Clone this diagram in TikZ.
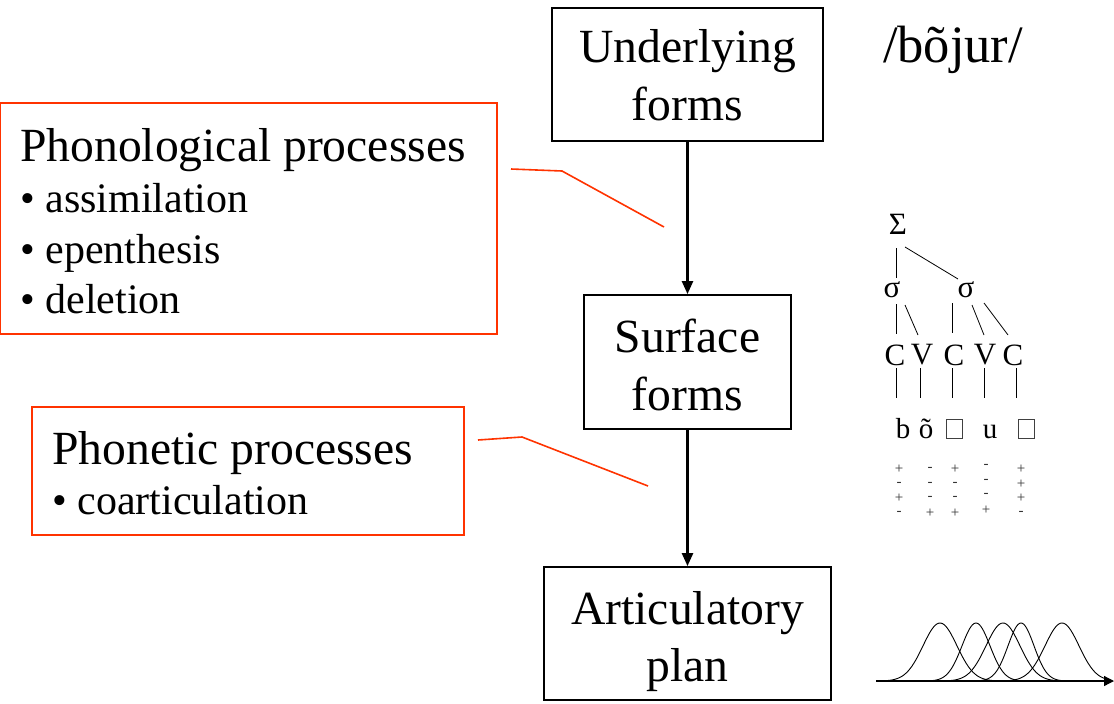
\documentclass[tikz,border=0pt]{standalone}
\usepackage{fontspec}
\setmainfont{Liberation Serif}
\usetikzlibrary{arrows.meta}
\definecolor{callout}{HTML}{FF3300}
\begin{document}
\begin{tikzpicture}[x=1pt,y=-1pt,
  stagebox/.style={draw=black, line width=1.8pt, inner sep=0pt},
  notebox/.style={draw=callout, line width=1.8pt, inner sep=0pt},
  big/.style={font=\fontsize{47.6}{57}\selectfont, inner sep=0pt},
  item/.style={font=\fontsize{42}{48}\selectfont, inner sep=0pt, anchor=base west},
  leader/.style={draw=callout, line width=1.6pt},
  flow/.style={line width=2.4pt, -{Triangle[length=13pt,width=11pt]}},
  tree/.style={font=\fontsize{31}{34}\selectfont, inner sep=0pt},
  seg/.style={font=\fontsize{29}{34}\selectfont, inner sep=0pt},
  feat/.style={font=\fontsize{15}{15}\selectfont, inner sep=0pt, text=black!80},
  branch/.style={line width=0.8pt},
  bump/.style={line width=0.9pt}]
\useasboundingbox (0,0) rectangle (1114,704);

% derivation stages
\node[stagebox, minimum width=271pt, minimum height=133pt] (under) at (687.5,74.5) {};
\node[big, anchor=base] (underA) at (687.5,62) {Underlying};
\node[big, anchor=base] (underB) at (687.5,120) {forms};

\node[stagebox, minimum width=207pt, minimum height=134pt] (surf) at (687.5,362) {};
\node[big, anchor=base] (surfA) at (687.5,352) {Surface};
\node[big, anchor=base] (surfB) at (687.5,410) {forms};

\node[stagebox, minimum width=287pt, minimum height=133pt] (artic) at (687.5,633.5) {};
\node[big, anchor=base] (articA) at (687.5,624) {Articulatory};
\node[big, anchor=base] (articB) at (687.5,681) {plan};

\draw[flow] (under.south) -- (surf.north);
\draw[flow] (surf.south) -- (artic.north);

% process annotations
\node[notebox, minimum width=497pt, minimum height=231pt] (phonol) at (248.5,218.5) {};
\node[big, anchor=base west] (phonolT) at (20,161) {Phonological processes};
\node[item] (p1) at (20,212) {• assimilation};
\node[item] (p2) at (20,263) {• epenthesis};
\node[item] (p3) at (20,313) {• deletion};

\node[notebox, minimum width=432pt, minimum height=128pt] (phonet) at (248,471) {};
\node[big, anchor=base west] (phonetT) at (52,464) {Phonetic processes};
\node[item] (q1) at (52,514) {• coarticulation};

\coordinate (l1a) at (511,169);
\coordinate (l1b) at (562,171);
\coordinate (l1c) at (664,227);
\draw[leader] (l1a) -- (l1b) -- (l1c);
\coordinate (l2a) at (478,440);
\coordinate (l2b) at (522,437);
\coordinate (l2c) at (648,486);
\draw[leader] (l2a) -- (l2b) -- (l2c);

% underlying transcription
\node[font=\fontsize{52.5}{57}\selectfont, inner sep=0pt, anchor=base] (ur) at (953,62) {/bõjur/};

% prosodic tree
\node[tree] (foot) at (898,224) {Σ};
\node[tree] (syl1) at (892,290) {σ};
\node[tree] (syl2) at (966,290) {σ};
\node[tree] (c1) at (895,355) {C};
\node[tree] (v1) at (922,355) {V};
\node[tree] (c2) at (954,355) {C};
\node[tree] (v2) at (985,355) {V};
\node[tree] (c3) at (1013,355) {C};
\draw[branch] (896,248) -- (896,278);
\draw[branch] (905,247) -- (958,279);
\draw[branch] (896,304) -- (896,334);
\draw[branch] (905,305) -- (918,335);
\draw[branch] (952,303) -- (952,333);
\draw[branch] (972,305) -- (984,335);
\draw[branch] (984,303) -- (1008,335);
\foreach \x in {896,920,952,984,1016} \draw[branch] (\x,368) -- (\x,398);

% segments
\node[seg, anchor=base] (sb) at (903,438) {b};
\node[seg, anchor=base] (so) at (926,438) {õ};
\node[draw=black!75, line width=0.8pt, inner sep=0pt, minimum width=16pt, minimum height=19pt] (sz) at (954,428.5) {};
\node[seg, anchor=base] (su) at (990,438) {u};
\node[draw=black!75, line width=0.8pt, inner sep=0pt, minimum width=16pt, minimum height=19pt] (sr) at (1026,428.5) {};

% feature values
\foreach \x/\a/\b/\c/\d/\dy in {899/+/-/+/-/0, 930/-/-/-/+/0, 955/+/-/-/+/0, 986/-/-/-/+/-3, 1021/+/+/+/-/0}{
  \node[feat] at (\x,469+\dy) {\a};
  \node[feat] at (\x,484+\dy) {\b};
  \node[feat] at (\x,498+\dy) {\c};
  \node[feat] at (\x,513+\dy) {\d};
}

% gestural overlap
\coordinate (t0) at (876,681);
\coordinate (t1) at (1114,681);
\draw[line width=1.2pt, -{Triangle[length=10pt,width=10pt]}] (t0) -- (t1);
\foreach \m/\s/\lo/\hi in {940/17/876/1000, 976/14/928/1024, 1003/17/945/1062, 1021/13/975/1067, 1062/17/1005/1108}{
  \draw[bump] plot[domain=\lo:\hi, samples=70, smooth] (\x, {681-58*exp(-0.5*((\x-\m)/\s)^2)});
}
\end{tikzpicture}
\end{document}
